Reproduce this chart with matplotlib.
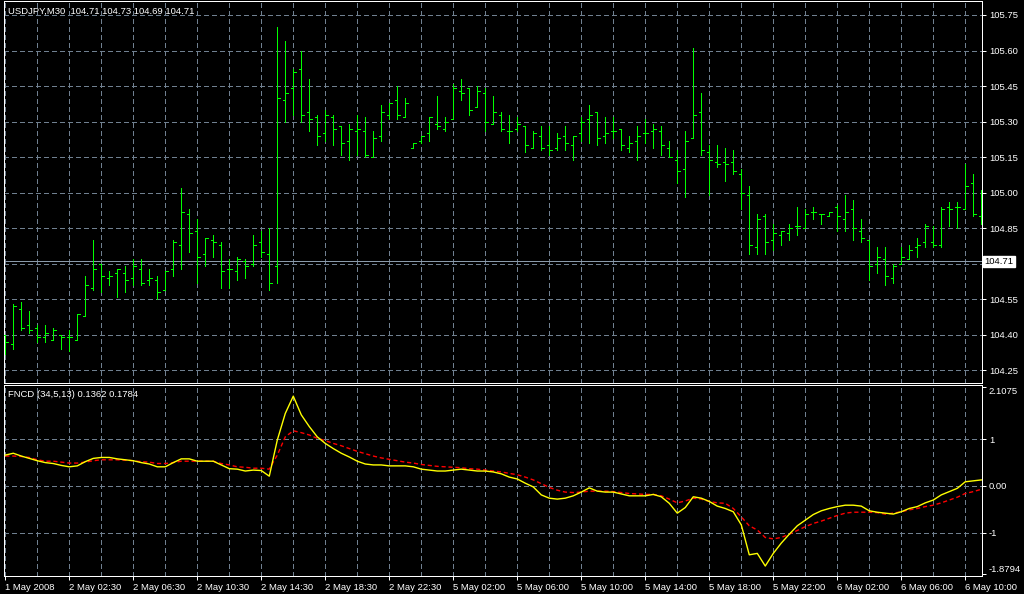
import numpy as np
import matplotlib
matplotlib.use("Agg")
import matplotlib.pyplot as plt

# USDJPY M30 bars
opens = [104.40, 104.36, 104.51, 104.44, 104.43, 104.39, 104.38, 104.40, 104.39, 104.38,
         104.48, 104.60, 104.70, 104.64, 104.66, 104.66, 104.64, 104.68, 104.63, 104.63,
         104.59, 104.68, 104.78, 104.91, 104.84, 104.74, 104.80, 104.78, 104.68, 104.67,
         104.71, 104.70, 104.79, 104.74, 104.69, 105.39, 105.44, 105.52, 105.34, 105.32,
         105.25, 105.32, 105.28, 105.22, 105.26, 105.26, 105.15, 105.24, 105.33, 105.39,
         105.32, 105.19, 105.22, 105.25, 105.29, 105.27, 105.31, 105.43, 105.44, 105.36,
         105.42, 105.29, 105.33, 105.26, 105.27, 105.28, 105.19, 105.24, 105.20, 105.19,
         105.24, 105.20, 105.25, 105.31, 105.34, 105.24, 105.26, 105.27, 105.19, 105.22,
         105.25, 105.26, 105.26, 105.19, 105.14, 105.10, 105.23, 105.34, 105.17, 105.13,
         105.13, 105.13, 105.08, 104.99, 104.77, 104.90, 104.80, 104.82, 104.83, 104.86,
         104.85, 104.92, 104.91, 104.90, 104.94, 104.89, 104.93, 104.84, 104.80, 104.70,
         104.72, 104.64, 104.70, 104.72, 104.77, 104.79, 104.79, 104.78, 104.94, 104.94,
         104.93, 105.04, 104.90]
highs = [104.40, 104.53, 104.54, 104.50, 104.44, 104.44, 104.43, 104.40, 104.42, 104.49,
         104.65, 104.80, 104.70, 104.67, 104.68, 104.69, 104.72, 104.72, 104.68, 104.65,
         104.67, 104.80, 105.02, 104.93, 104.89, 104.81, 104.82, 104.79, 104.72, 104.73,
         104.72, 104.82, 104.84, 104.85, 105.70, 105.64, 105.52, 105.60, 105.48, 105.33,
         105.35, 105.33, 105.28, 105.29, 105.33, 105.32, 105.26, 105.37, 105.38, 105.45,
         105.40, 105.21, 105.24, 105.32, 105.41, 105.32, 105.46, 105.48, 105.44, 105.45,
         105.44, 105.41, 105.34, 105.33, 105.32, 105.28, 105.26, 105.28, 105.28, 105.25,
         105.28, 105.24, 105.32, 105.37, 105.34, 105.32, 105.32, 105.27, 105.24, 105.28,
         105.31, 105.29, 105.28, 105.22, 105.18, 105.26, 105.61, 105.42, 105.20, 105.20,
         105.19, 105.18, 105.10, 105.03, 104.91, 104.91, 104.87, 104.84, 104.87, 104.94,
         104.93, 104.94, 104.91, 104.92, 104.95, 104.99, 104.97, 104.89, 104.80, 104.77,
         104.77, 104.70, 104.77, 104.78, 104.81, 104.87, 104.86, 104.94, 104.96, 104.96,
         105.12, 105.08, 105.01]
lows = [104.32, 104.34, 104.42, 104.41, 104.37, 104.37, 104.38, 104.34, 104.33, 104.38,
        104.48, 104.59, 104.58, 104.61, 104.56, 104.58, 104.61, 104.61, 104.61, 104.55,
        104.59, 104.65, 104.68, 104.75, 104.62, 104.69, 104.73, 104.60, 104.60, 104.63,
        104.64, 104.69, 104.73, 104.59, 104.62, 105.30, 105.33, 105.30, 105.26, 105.20,
        105.22, 105.20, 105.16, 105.14, 105.16, 105.15, 105.15, 105.22, 105.31, 105.31,
        105.32, 105.19, 105.21, 105.22, 105.27, 105.26, 105.31, 105.39, 105.33, 105.36,
        105.26, 105.29, 105.26, 105.21, 105.26, 105.17, 105.19, 105.18, 105.16, 105.18,
        105.18, 105.14, 105.22, 105.21, 105.20, 105.21, 105.23, 105.18, 105.17, 105.14,
        105.21, 105.19, 105.16, 105.15, 105.04, 104.98, 105.23, 105.16, 104.99, 105.11,
        105.05, 105.08, 104.93, 104.74, 104.74, 104.74, 104.76, 104.78, 104.80, 104.82,
        104.85, 104.89, 104.87, 104.90, 104.84, 104.84, 104.80, 104.79, 104.63, 104.66,
        104.61, 104.62, 104.70, 104.72, 104.73, 104.77, 104.77, 104.77, 104.86, 104.85,
        104.93, 104.90, 104.87]
closes = [104.37, 104.52, 104.43, 104.42, 104.39, 104.41, 104.42, 104.39, 104.39, 104.49,
          104.61, 104.68, 104.65, 104.65, 104.68, 104.63, 104.69, 104.62, 104.64, 104.58,
          104.67, 104.79, 104.92, 104.83, 104.73, 104.81, 104.79, 104.67, 104.68, 104.72,
          104.69, 104.78, 104.75, 104.62, 105.40, 105.42, 105.51, 105.33, 105.31, 105.24,
          105.33, 105.27, 105.21, 105.27, 105.27, 105.16, 105.23, 105.34, 105.38, 105.33,
          105.38, 105.21, 105.24, 105.32, 105.28, 105.30, 105.44, 105.42, 105.35, 105.43,
          105.30, 105.34, 105.27, 105.26, 105.29, 105.20, 105.25, 105.19, 105.18, 105.23,
          105.21, 105.24, 105.30, 105.33, 105.23, 105.25, 105.26, 105.20, 105.21, 105.24,
          105.25, 105.27, 105.20, 105.15, 105.09, 105.22, 105.33, 105.18, 105.14, 105.12,
          105.12, 105.09, 105.00, 104.78, 104.89, 104.79, 104.83, 104.84, 104.85, 104.86,
          104.91, 104.92, 104.91, 104.92, 104.90, 104.92, 104.85, 104.81, 104.69, 104.73,
          104.65, 104.69, 104.73, 104.76, 104.78, 104.86, 104.78, 104.93, 104.93, 104.94,
          105.03, 104.91, 104.90]

# FNCD indicator: main line (yellow) and signal line (red dotted)
fncd = [0.66, 0.70, 0.64, 0.59, 0.54, 0.50, 0.48, 0.44, 0.41, 0.43,
        0.52, 0.59, 0.61, 0.61, 0.58, 0.56, 0.54, 0.50, 0.47, 0.41,
        0.41, 0.50, 0.58, 0.58, 0.53, 0.53, 0.53, 0.45, 0.37, 0.36,
        0.32, 0.34, 0.33, 0.21, 0.98, 1.55, 1.92, 1.52, 1.27, 1.05,
        0.91, 0.80, 0.70, 0.62, 0.53, 0.47, 0.45, 0.45, 0.43, 0.43,
        0.43, 0.41, 0.36, 0.34, 0.32, 0.32, 0.34, 0.36, 0.34, 0.32,
        0.32, 0.30, 0.26, 0.19, 0.15, 0.06, -0.02, -0.19, -0.26, -0.28,
        -0.26, -0.21, -0.13, -0.04, -0.11, -0.13, -0.13, -0.17, -0.21, -0.21,
        -0.21, -0.18, -0.23, -0.37, -0.58, -0.46, -0.23, -0.26, -0.33, -0.43,
        -0.48, -0.55, -0.83, -1.47, -1.44, -1.71, -1.44, -1.22, -1.03, -0.85,
        -0.73, -0.61, -0.53, -0.48, -0.44, -0.41, -0.41, -0.43, -0.53, -0.56,
        -0.58, -0.60, -0.55, -0.48, -0.44, -0.36, -0.30, -0.19, -0.12, -0.05,
        0.09, 0.11, 0.13]
signal = [0.64, 0.64, 0.63, 0.61, 0.56, 0.53, 0.53, 0.51, 0.49, 0.49,
          0.51, 0.54, 0.56, 0.56, 0.56, 0.55, 0.54, 0.52, 0.51, 0.48,
          0.48, 0.50, 0.53, 0.53, 0.53, 0.53, 0.53, 0.48, 0.45, 0.41,
          0.40, 0.38, 0.38, 0.36, 0.66, 1.05, 1.18, 1.14, 1.09, 1.02,
          0.97, 0.91, 0.86, 0.80, 0.74, 0.69, 0.64, 0.60, 0.57, 0.54,
          0.51, 0.49, 0.46, 0.44, 0.42, 0.41, 0.40, 0.39, 0.37, 0.36,
          0.34, 0.32, 0.30, 0.27, 0.24, 0.19, 0.13, 0.05, -0.03, -0.09,
          -0.13, -0.14, -0.13, -0.11, -0.11, -0.11, -0.12, -0.14, -0.16, -0.17,
          -0.18, -0.18, -0.21, -0.28, -0.36, -0.32, -0.26, -0.28, -0.33, -0.36,
          -0.37, -0.48, -0.66, -0.85, -0.94, -1.10, -1.13, -1.10, -1.03, -0.95,
          -0.87, -0.80, -0.75, -0.69, -0.63, -0.58, -0.56, -0.56, -0.56, -0.57,
          -0.60, -0.58, -0.55, -0.51, -0.48, -0.44, -0.41, -0.36, -0.30, -0.24,
          -0.16, -0.12, -0.07]

time_labels = ["1 May 2008", "2 May 02:30", "2 May 06:30", "2 May 10:30", "2 May 14:30",
               "2 May 18:30", "2 May 22:30", "5 May 02:00", "5 May 06:00", "5 May 10:00",
               "5 May 14:00", "5 May 18:00", "5 May 22:00", "6 May 02:00", "6 May 06:00",
               "6 May 10:00"]
price_ticks = [105.75, 105.60, 105.45, 105.30, 105.15, 105.00, 104.85, 104.70, 104.55, 104.40, 104.25]
ind_ticks = [2.1075, 1, 0, -1, -1.8794]
ind_labels = ["2.1075", "1", "0.00", "-1", "-1.8794"]
bid = 104.71

n = len(closes)
x = np.arange(n)
BG = "black"
GRID = "#708090"
BAR = "#00ff00"
FONT = "Liberation Sans"
fs = 6.8
px = 0.72  # one pixel in points
dash = (0, (5, 4))

fig = plt.figure(figsize=(10.24, 5.94), dpi=100, facecolor=BG)
W, H = 1024, 594
ax = fig.add_axes([4 / W, (H - 383) / H, 978 / W, 382 / H], facecolor=BG)
ax2 = fig.add_axes([4 / W, (H - 576) / H, 978 / W, 191 / H], facecolor=BG)

for a in (ax, ax2):
    a.set_xlim(-0.16, 122.09)
    for s in a.spines.values():
        s.set_color("white")
        s.set_linewidth(px)
    for i in range(0, n, 4):
        a.axvline(i, color=GRID, lw=px, ls=dash, zorder=0, antialiased=False)

# price panel
ax.set_ylim(104.197, 105.809)
for p in price_ticks:
    ax.axhline(p, color=GRID, lw=px, ls=dash, zorder=0, antialiased=False)
ax.axhline(bid, color="#8a9aaa", lw=px, zorder=1, antialiased=False)
ax.vlines(x, lows, highs, color=BAR, lw=px, zorder=3, antialiased=False)
ax.hlines(opens, x - 0.33, x, color=BAR, lw=px, zorder=3, antialiased=False)
ax.hlines(closes, x, x + 0.33, color=BAR, lw=px, zorder=3, antialiased=False)
ax.set_xticks([])
ax.yaxis.tick_right()
ax.set_yticks(price_ticks)
ax.set_yticklabels([f"{p:.2f}" if abs(p - 104.70) > 1e-6 else "" for p in price_ticks],
                   fontname=FONT, fontsize=fs, color="white")
ax.tick_params(axis="y", colors="white", length=3, width=px, pad=2)
ax.text(1.0025, bid, f"{bid:.2f}", transform=ax.get_yaxis_transform(), fontname=FONT,
        fontsize=fs, color="black", va="center", ha="left",
        bbox=dict(boxstyle="square,pad=0.15", fc="white", ec="white"))
ax.text(0.004, 0.985, "USDJPY,M30  104.71 104.73 104.69 104.71", transform=ax.transAxes,
        fontname=FONT, fontsize=fs, color="white", va="top", ha="left")

# indicator panel
ax2.set_ylim(-1.923, 2.158)
for v in (1, 0, -1):
    ax2.axhline(v, color=GRID, lw=px, ls=dash, zorder=0, antialiased=False)
ax2.plot(x, signal, color="#ff0000", lw=1, ls=(0, (3, 2)), zorder=2)
ax2.plot(x, fncd, color="#ffff00", lw=1, zorder=3)
ax2.yaxis.tick_right()
ax2.set_yticks(ind_ticks)
ax2.set_yticklabels(ind_labels, fontname=FONT, fontsize=fs, color="white")
ylabs = ax2.get_yticklabels()
ylabs[0].set_va("top")
ylabs[-1].set_va("bottom")
ax2.tick_params(axis="y", colors="white", length=3, width=px, pad=2)
ax2.set_xticks(np.arange(0, n, 8))
ax2.set_xticklabels(time_labels, fontname=FONT, fontsize=fs, color="white")
for lab in ax2.get_xticklabels():
    lab.set_ha("left")
ax2.tick_params(axis="x", colors="white", length=3, width=px, pad=2)
ax2.text(0.004, 0.975, "FNCD (34,5,13) 0.1362 0.1784", transform=ax2.transAxes,
         fontname=FONT, fontsize=fs, color="white", va="top", ha="left")

fig.savefig("out.png", dpi=100, facecolor=BG)
